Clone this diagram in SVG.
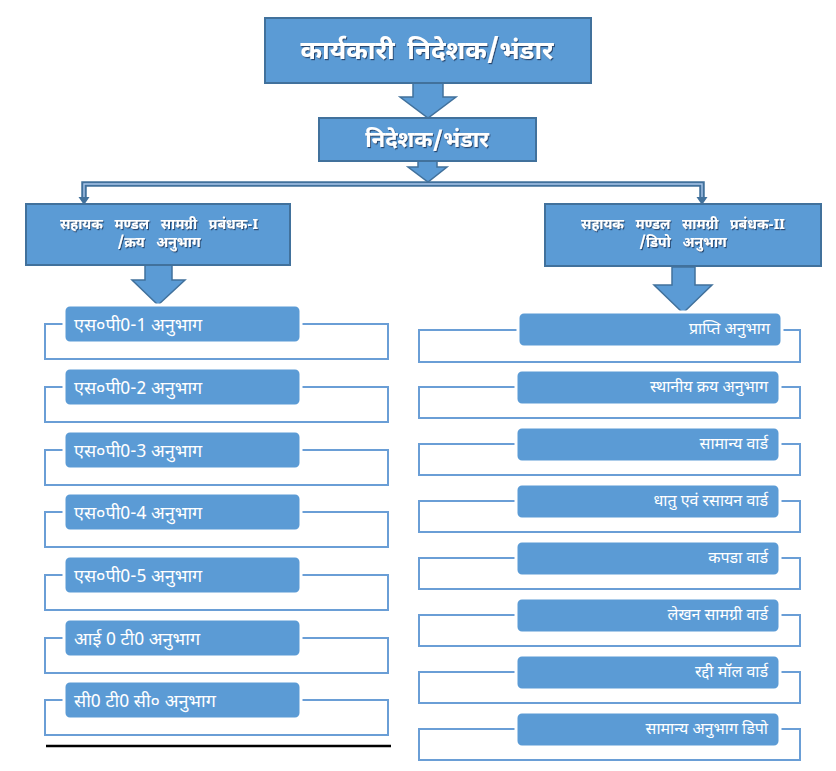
<svg xmlns="http://www.w3.org/2000/svg" width="836" height="771" viewBox="0 0 836 771">
<style>
.box{fill:#5B9BD5;stroke:#41719C;stroke-width:2}
.blk{fill:#5B9BD5;stroke:#41719C;stroke-width:1.5}
.item{fill:#5B9BD5;stroke:#FFFFFF;stroke-width:3}
.brk{fill:none;stroke:#6A9ED6;stroke-width:2}
.hd{font-family:"Noto Sans Devanagari","Noto Sans","Lohit Devanagari","DejaVu Sans",sans-serif;font-weight:bold;fill:#FFFFFF;text-anchor:middle}
.lt{font-family:"Noto Sans Devanagari","Noto Sans","Lohit Devanagari","DejaVu Sans",sans-serif;fill:#FFFFFF;font-size:18px}
.rt{font-family:"Noto Sans Devanagari","Noto Sans","Lohit Devanagari","DejaVu Sans",sans-serif;fill:#FFFFFF;font-size:16px;text-anchor:end}
</style>
<defs>
<filter id="sh" x="-5%" y="-20%" width="110%" height="140%">
<feDropShadow dx="1" dy="1.2" stdDeviation="0.6" flood-color="#1E3A5F" flood-opacity="0.85"/>
</filter>
</defs>
<rect width="836" height="771" fill="#FFFFFF"/>

<g id="connectors">
<path class="blk" d="M413,83 H443 V97 H456 L428,118 L400,97 H413 Z"/>
<path class="blk" d="M418,161 H437 V167 H447 L428,182 L408,167 H418 Z"/>
<path d="M84,199 V184 H702 V199" fill="none" stroke="#41719C" stroke-width="5.5"/>
<path d="M84,199 V184 H702 V199" fill="none" stroke="#A9C6EA" stroke-width="1.4"/>
<polygon points="78.5,197 89.5,197 84,205" fill="#41719C"/>
<polygon points="696.5,197 707.5,197 702,205" fill="#41719C"/>
<path class="blk" d="M145,265 H172 V280 H185 L158,305 L132,280 H145 Z"/>
<path class="blk" d="M672,267 H695 V285 H712 L683,313 L654,285 H672 Z"/>
</g>

<g id="ed">
<rect class="box" x="265" y="18" width="326" height="65"/>
<text class="hd" x="427" y="59" font-size="26" filter="url(#sh)" word-spacing="6">कार्यकारी निदेशक/भंडार</text>
</g>
<g id="dir">
<rect class="box" x="319" y="118" width="217" height="43"/>
<text class="hd" x="427" y="147" font-size="22" filter="url(#sh)">निदेशक/भंडार</text>
</g>
<g id="acm1">
<rect class="box" x="26" y="204" width="264" height="61"/>
<text class="hd" x="159" y="229" font-size="14" filter="url(#sh)" word-spacing="8">सहायक मण्डल सामग्री प्रबंधक-I</text>
<text class="hd" x="159" y="247" font-size="14" filter="url(#sh)" word-spacing="8">/क्रय अनुभाग</text>
</g>
<g id="acm2">
<rect class="box" x="545" y="204" width="276" height="62"/>
<text class="hd" x="683" y="229" font-size="14" filter="url(#sh)" word-spacing="8">सहायक मण्डल सामग्री प्रबंधक-II</text>
<text class="hd" x="683" y="247" font-size="14" filter="url(#sh)" word-spacing="8">/डिपो अनुभाग</text>
</g>

<g id="sp1"><rect class="brk" x="45" y="324" width="343" height="35"/><rect class="item" x="64" y="305" width="237" height="38" rx="6"/><text class="lt" x="74" y="331">एस०पी0-1 अनुभाग</text></g>
<g id="sp2"><rect class="brk" x="45" y="387" width="343" height="35"/><rect class="item" x="64" y="368" width="237" height="38" rx="6"/><text class="lt" x="74" y="394">एस०पी0-2 अनुभाग</text></g>
<g id="sp3"><rect class="brk" x="45" y="450" width="343" height="35"/><rect class="item" x="64" y="431" width="237" height="38" rx="6"/><text class="lt" x="74" y="457">एस०पी0-3 अनुभाग</text></g>
<g id="sp4"><rect class="brk" x="45" y="512" width="343" height="35"/><rect class="item" x="64" y="493" width="237" height="38" rx="6"/><text class="lt" x="74" y="519">एस०पी0-4 अनुभाग</text></g>
<g id="sp5"><rect class="brk" x="45" y="575" width="343" height="35"/><rect class="item" x="64" y="556" width="237" height="38" rx="6"/><text class="lt" x="74" y="582">एस०पी0-5 अनुभाग</text></g>
<g id="it"><rect class="brk" x="45" y="638" width="343" height="35"/><rect class="item" x="64" y="619" width="237" height="38" rx="6"/><text class="lt" x="74" y="645">आई 0 टी0 अनुभाग</text></g>
<g id="ctc"><rect class="brk" x="45" y="700" width="343" height="35"/><rect class="item" x="64" y="681" width="237" height="38" rx="6"/><text class="lt" x="74" y="707">सी0 टी0 सी० अनुभाग</text></g>
<line x1="46" y1="746" x2="391" y2="746" stroke="#000000" stroke-width="2.5"/>

<g id="r1"><rect class="brk" x="419" y="330" width="381" height="32"/><rect class="item" x="518" y="312" width="264" height="35" rx="6"/><text class="rt" x="770" y="334">प्राप्ति अनुभाग</text></g>
<g id="r2"><rect class="brk" x="419" y="387" width="381" height="31"/><rect class="item" x="516" y="370" width="264" height="35" rx="6"/><text class="rt" x="768" y="392">स्थानीय क्रय अनुभाग</text></g>
<g id="r3"><rect class="brk" x="419" y="444" width="381" height="31"/><rect class="item" x="516" y="427" width="264" height="35" rx="6"/><text class="rt" x="768" y="449">सामान्य वार्ड</text></g>
<g id="r4"><rect class="brk" x="419" y="501" width="381" height="31"/><rect class="item" x="516" y="484" width="264" height="35" rx="6"/><text class="rt" x="768" y="506">धातु एवं रसायन वार्ड</text></g>
<g id="r5"><rect class="brk" x="419" y="558" width="381" height="31"/><rect class="item" x="516" y="541" width="264" height="35" rx="6"/><text class="rt" x="768" y="563">कपडा वार्ड</text></g>
<g id="r6"><rect class="brk" x="419" y="615" width="381" height="31"/><rect class="item" x="516" y="598" width="264" height="35" rx="6"/><text class="rt" x="768" y="620">लेखन सामग्री वार्ड</text></g>
<g id="r7"><rect class="brk" x="419" y="672" width="381" height="31"/><rect class="item" x="516" y="655" width="264" height="35" rx="6"/><text class="rt" x="768" y="677">रद्दी मॉल वार्ड</text></g>
<g id="r8"><rect class="brk" x="419" y="729" width="381" height="31"/><rect class="item" x="516" y="712" width="264" height="35" rx="6"/><text class="rt" x="768" y="734">सामान्य अनुभाग डिपो</text></g>
</svg>
